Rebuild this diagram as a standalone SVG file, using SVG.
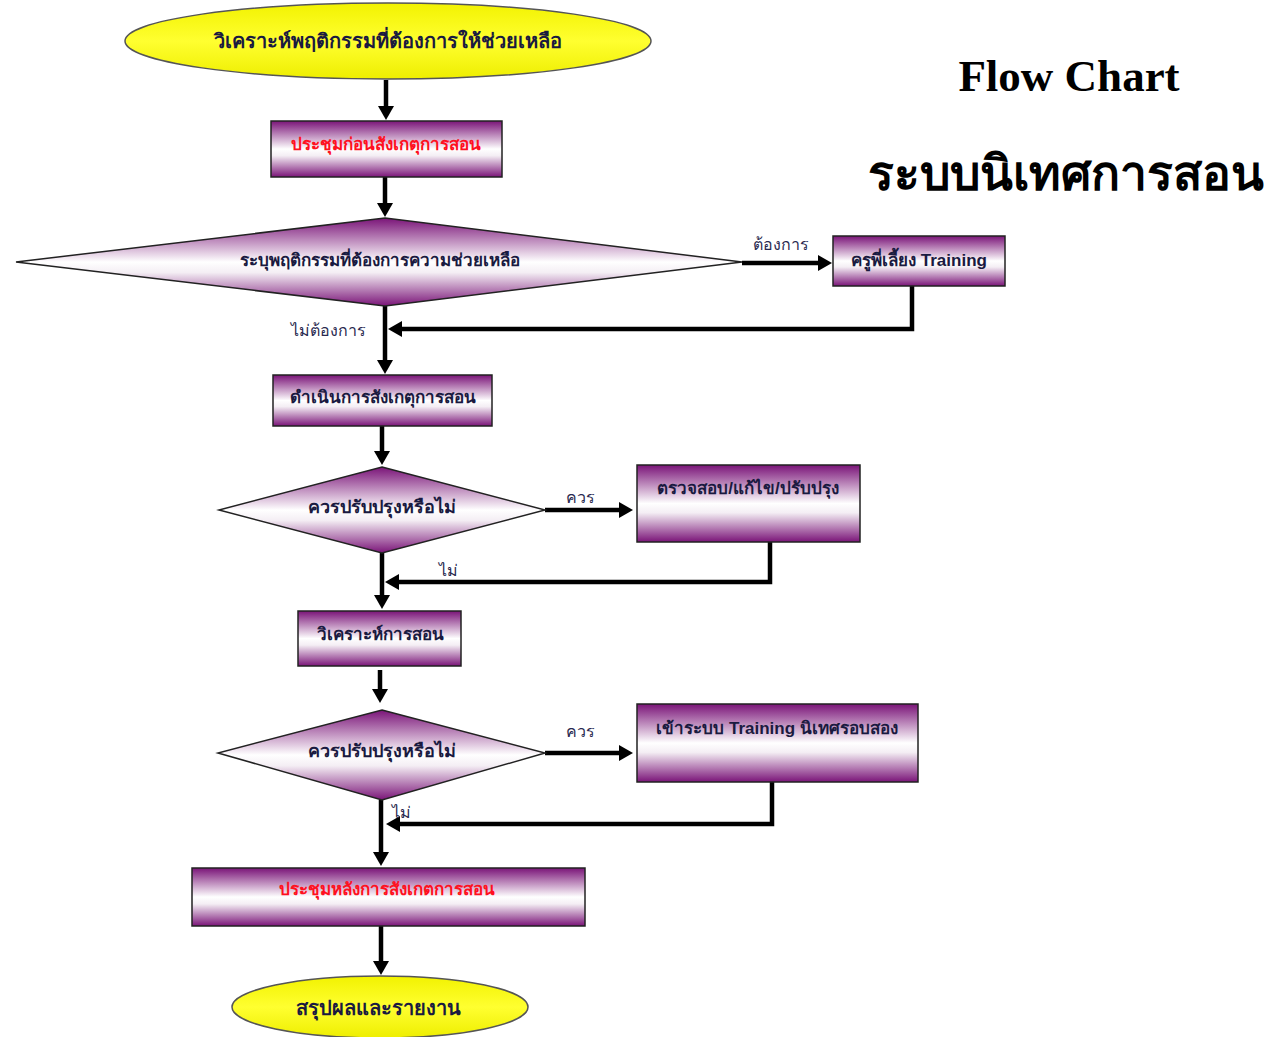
<svg xmlns="http://www.w3.org/2000/svg" width="1273" height="1037" viewBox="0 0 1273 1037">
<defs>
<linearGradient id="pg" x1="0" y1="0" x2="0" y2="1">
<stop offset="0" stop-color="#7a1478"/>
<stop offset="0.5" stop-color="#ffffff"/>
<stop offset="0.62" stop-color="#f4eef4"/>
<stop offset="1" stop-color="#7a1478"/>
</linearGradient>
<linearGradient id="yg" x1="0" y1="0" x2="0" y2="1">
<stop offset="0" stop-color="#f2f200"/>
<stop offset="0.5" stop-color="#ffff30"/>
<stop offset="1" stop-color="#eeee00"/>
</linearGradient>
<marker id="ah" viewBox="0 0 14 16" refX="0" refY="8" markerWidth="14" markerHeight="16" markerUnits="userSpaceOnUse" orient="auto">
<path d="M0,0 L14,8 L0,16 z" fill="#000"/>
</marker>
</defs>
<style>
.box{fill:url(#pg);stroke:#222;stroke-width:1.5}
.ell{fill:url(#yg);stroke:#555;stroke-width:1.5}
.t{font-family:"Liberation Sans","Noto Sans",sans-serif;font-weight:bold;text-anchor:middle;fill:#1a1a40}
.red{fill:#ff1020}
.lbl{font-family:"Liberation Sans","Noto Sans",sans-serif;font-size:16px;fill:#2a2a50;text-anchor:middle}
.c{fill:none;stroke:#000;stroke-width:4.5}
.ca{fill:none;stroke:#000;stroke-width:4.5;marker-end:url(#ah)}
</style>
<rect width="1273" height="1037" fill="#fff"/>

<g id="connectors">
<path class="ca" d="M386,80 V106"/>
<path class="ca" d="M385,177 V203"/>
<path class="ca" d="M742,263 H818"/>
<path class="ca" d="M912,286 V329 H402"/>
<path class="ca" d="M385,306 V360"/>
<path class="ca" d="M382,426 V451"/>
<path class="ca" d="M545,510 H619"/>
<path class="ca" d="M770,542 V582 H399"/>
<path class="ca" d="M382,553 V595"/>
<path class="ca" d="M380,670 V689"/>
<path class="ca" d="M545,753 H619"/>
<path class="ca" d="M772,782 V824 H400"/>
<path class="ca" d="M381,800 V852"/>
<path class="ca" d="M381,926 V961"/>
<text class="lbl" x="781" y="250">ต้องการ</text>
<text class="lbl" x="328" y="336">ไม่ต้องการ</text>
<text class="lbl" x="580" y="503">ควร</text>
<text class="lbl" x="448" y="576">ไม่</text>
<text class="lbl" x="580" y="737">ควร</text>
<text class="lbl" x="401" y="818">ไม่</text>
</g>

<g id="start">
<ellipse class="ell" cx="388" cy="41" rx="263" ry="38"/>
<text class="t" x="388" y="48" font-size="20">วิเคราะห์พฤติกรรมที่ต้องการให้ช่วยเหลือ</text>
</g>
<g id="pre-meeting">
<rect class="box" x="271" y="121" width="231" height="56"/>
<text class="t red" x="386" y="150" font-size="17">ประชุมก่อนสังเกตุการสอน</text>
</g>
<g id="identify">
<polygon class="box" points="385,218 742,262 385,306 16,262"/>
<text class="t" x="380" y="266" font-size="17" font-weight="normal">ระบุพฤติกรรมที่ต้องการความช่วยเหลือ</text>
</g>
<g id="mentor">
<rect class="box" x="833" y="236" width="172" height="50"/>
<text class="t" x="919" y="266" font-size="17">ครูพี่เลี้ยง Training</text>
</g>
<g id="observe">
<rect class="box" x="273" y="375" width="219" height="51"/>
<text class="t" x="383" y="403" font-size="17" font-weight="normal">ดำเนินการสังเกตุการสอน</text>
</g>
<g id="decision1">
<polygon class="box" points="382,467 545,510 382,553 219,510"/>
<text class="t" x="382" y="513" font-size="18" font-weight="normal">ควรปรับปรุงหรือไม่</text>
</g>
<g id="revise">
<rect class="box" x="637" y="465" width="223" height="77"/>
<text class="t" x="748" y="494" font-size="17">ตรวจสอบ/แก้ไข/ปรับปรุง</text>
</g>
<g id="analyze">
<rect class="box" x="298" y="611" width="163" height="55"/>
<text class="t" x="380" y="640" font-size="17" font-weight="normal">วิเคราะห์การสอน</text>
</g>
<g id="decision2">
<polygon class="box" points="382,710 545,753 382,800 218,753"/>
<text class="t" x="382" y="757" font-size="18" font-weight="normal">ควรปรับปรุงหรือไม่</text>
</g>
<g id="training2">
<rect class="box" x="637" y="704" width="281" height="78"/>
<text class="t" x="777" y="734" font-size="17">เข้าระบบ Training นิเทศรอบสอง</text>
</g>
<g id="post-meeting">
<rect class="box" x="192" y="868" width="393" height="58"/>
<text class="t red" x="387" y="895" font-size="17">ประชุมหลังการสังเกตการสอน</text>
</g>
<g id="end">
<ellipse class="ell" cx="380" cy="1007" rx="148" ry="31"/>
<text class="t" x="378" y="1015" font-size="20">สรุปผลและรายงาน</text>
</g>

<g id="title">
<text x="1069" y="91" font-family="'Liberation Serif',serif" font-weight="bold" font-size="45" text-anchor="middle" fill="#000">Flow Chart</text>
<text x="1066" y="190" font-family="'Liberation Serif',serif" font-weight="bold" font-size="48" text-anchor="middle" fill="#000">ระบบนิเทศการสอน</text>
</g>
</svg>
